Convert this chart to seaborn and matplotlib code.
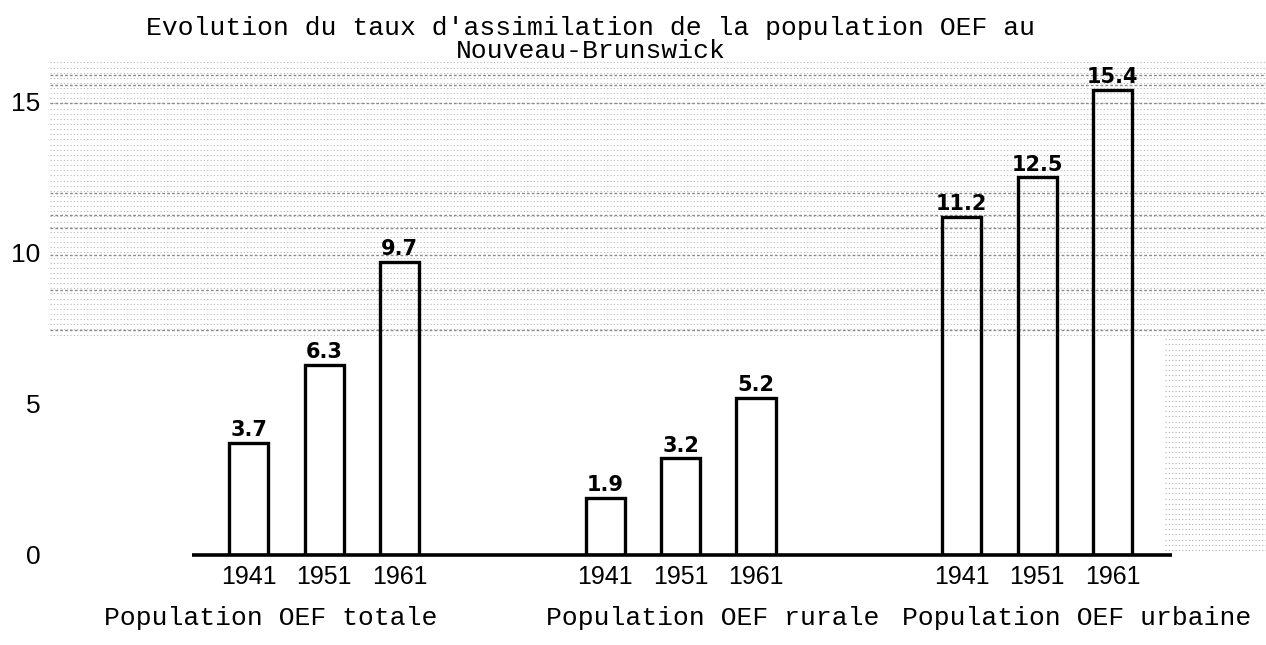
import numpy as np
import pandas as pd
import matplotlib
matplotlib.use("Agg")
import matplotlib.pyplot as plt
import matplotlib.transforms as mtransforms
import seaborn as sns

# ---- data ----
groups = ["Population OEF totale", "Population OEF rurale", "Population OEF urbaine"]
years = ["1941", "1951", "1961"]
totale = [3.7, 6.3, 9.7]
rurale = [1.9, 3.2, 5.2]
urbaine = [11.2, 12.5, 15.4]
yticks = [0, 5, 10, 15]
title_lines = ["Evolution du taux d'assimilation de la population OEF au",
               "Nouveau-Brunswick"]

values = [totale, rurale, urbaine]
df = pd.DataFrame({
    "groupe": [g for g, vals in zip(groups, values) for _ in vals],
    "annee": [y for vals in values for y in years],
    "taux": [v for vals in values for v in vals],
})

sns.set_theme(style="white")
plt.rcParams["font.family"] = ["Liberation Sans", "DejaVu Sans"]
plt.rcParams["text.color"] = "black"
plt.rcParams["xtick.color"] = "black"
plt.rcParams["ytick.color"] = "black"

W, H = 1266, 645
fig = plt.figure(figsize=(W / 100, H / 100), dpi=100)
ax = fig.add_axes([50 / W, 90 / H, 1216 / W, 495 / H])

# graph-paper background (decoration)
paper_y = np.arange(7.3, 16.4, 0.17)
ax.hlines(paper_y, -0.77, 2.65, colors="#b8b8b8", linestyles=(0, (1, 2)), lw=0.8, zorder=0)
heavy_y = [15.9, 15.56, 14.97, 11.99, 11.26, 10.83, 9.93, 8.77, 7.45]
ax.hlines(heavy_y, -0.77, 2.65, colors="#8a8a8a", linestyles=(0, (2, 1.5)), lw=1.0, zorder=0)
side_y = np.arange(0.0, 7.3, 0.17)
ax.hlines(side_y, 2.36, 2.65, colors="#b0b0b0", linestyles=(0, (1, 2)), lw=0.8, zorder=0)

sns.barplot(data=df, x="groupe", y="taux", hue="annee", order=groups, hue_order=years,
            palette=["black"] * 3, fill=False, width=0.635, gap=0.48,
            linewidth=2.4, legend=False, ax=ax, errorbar=None)

# value labels and year tick labels
centers, labs = [], []
for cont, yr in zip(ax.containers, years):
    ax.bar_label(cont, labels=[f"{b.get_height():.1f}" for b in cont], padding=2,
                 fontsize=15, fontweight="bold", family="DejaVu Sans", color="black")
    for b in cont:
        centers.append(b.get_x() + b.get_width() / 2)
        labs.append(yr)

ax.set_xticks(centers, labs)
ax.tick_params(axis="x", length=0, pad=7, labelsize=18)
ax.set_yticks(yticks, [str(t) for t in yticks])
ax.tick_params(axis="y", length=0, pad=7, labelsize=19)
ax.set_xlim(-0.769, 2.642)
ax.set_ylim(0, 16.39)
ax.set_xlabel("")
ax.set_ylabel("")
for s in ax.spines.values():
    s.set_visible(False)

# baseline
ax.hlines(0, -0.370, 2.379, colors="black", lw=2.6, clip_on=False, zorder=5)

# group labels
trans = mtransforms.blended_transform_factory(ax.transData, fig.transFigure)
label_shift = [-0.15, 0.09, 0.11]
for i, (g, sh) in enumerate(zip(groups, label_shift)):
    ax.text(i + sh, 1 - 618 / H, g, transform=trans, ha="center", va="center",
            fontsize=19, family="Liberation Mono", color="black")

# title
fig.text(591 / W, 1 - 28 / H, title_lines[0], ha="center", va="center",
         fontsize=19, family="Liberation Mono", color="black")
fig.text(591 / W, 1 - 51 / H, title_lines[1], ha="center", va="center",
         fontsize=19, family="Liberation Mono", color="black")

fig.savefig("out.png", dpi=100)
